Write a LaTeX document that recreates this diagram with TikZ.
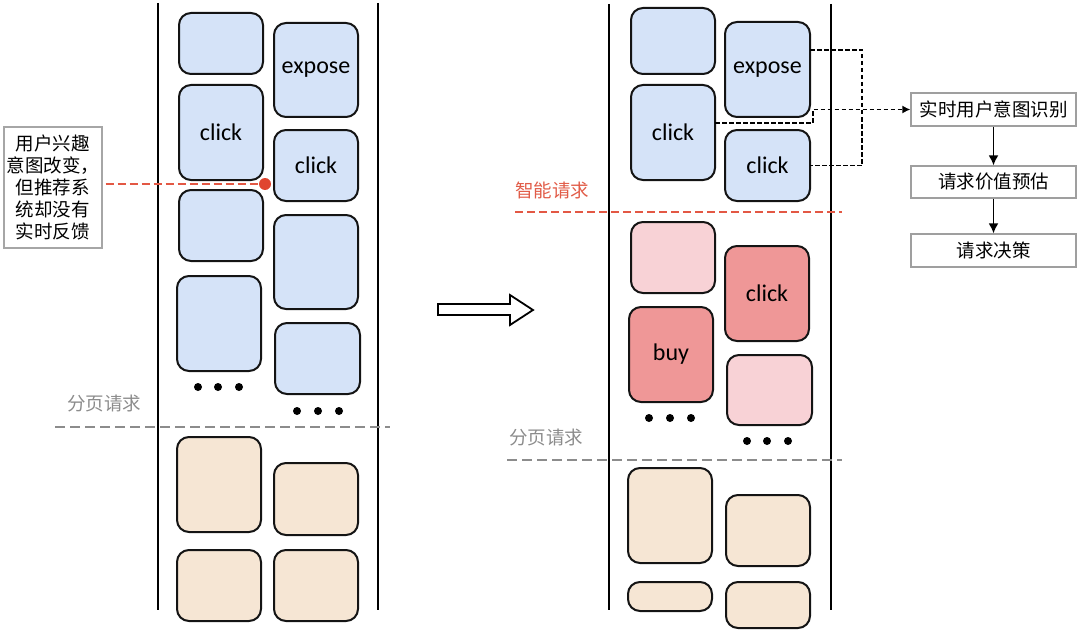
\documentclass[tikz,border=0pt]{standalone}
\usepackage{fontspec}
\setmainfont{Carlito}
\newfontfamily\cjk{Noto Sans CJK SC}
\usetikzlibrary{arrows.meta,calc}
\definecolor{cblue}{HTML}{D5E3F8}
\definecolor{cpeach}{HTML}{F6E6D4}
\definecolor{cpinkl}{HTML}{F8D2D6}
\definecolor{cpinkd}{HTML}{EF9797}
\definecolor{cred}{HTML}{E0452F}
\definecolor{credt}{HTML}{E15C48}
\definecolor{cgray}{HTML}{8C8C8C}
\definecolor{cedge}{HTML}{141414}
\newcommand\cardbox[7]{\node[card,fill=#6,minimum width={(#4)-(#2)},minimum height={(#5)-(#3)}] (#1) at ({((#2)+(#4))/2},{((#3)+(#5))/2}) {#7};}
\begin{document}
\begin{tikzpicture}[x=1pt,y=-1pt,
  card/.style={draw=cedge,line width=2pt,rounded corners=12pt,inner sep=0pt,outer sep=0pt,font=\fontsize{24}{27}\selectfont},
  rail/.style={draw=black,line width=2pt},
  flowbox/.style={draw=gray!75,line width=1.2pt,fill=white,minimum width=165pt,minimum height=33pt,inner sep=0pt,font=\cjk\fontsize{18.5}{22}\selectfont},
  dconn/.style={draw=black,line width=1.5pt,dash pattern=on 4.5pt off 2.5pt},
  flowarrow/.style={draw=black,line width=1.8pt,-{Latex[length=10pt,width=10pt]}},
  pagesep/.style={draw=cgray,line width=2.8pt,dash pattern=on 10pt off 5pt},
  redsep/.style={draw=cred!90,line width=2.6pt,dash pattern=on 8pt off 4pt},
  graylabel/.style={text=cgray,font=\cjk\fontsize{18.5}{22}\selectfont},
  redlabel/.style={text=credt,font=\cjk\fontsize{18.5}{22}\selectfont},
  dot/.style={circle,fill=black,inner sep=0pt,minimum size=8pt}
]
\useasboundingbox (0,0) rectangle (1080,634);
% ---------- left panel ----------
\draw[rail] (158,3) -- (158,610);
\draw[rail] (378,3) -- (378,610);
\cardbox{L1}{179}{13}{263}{74}{cblue}{}
\cardbox{Lex}{274}{23}{358}{117}{cblue}{expose}
\cardbox{Lck}{179}{85}{263}{180}{cblue}{click}
\cardbox{Lck2}{274}{130}{358}{201}{cblue}{click}
\cardbox{L4}{179}{190}{263}{261}{cblue}{}
\cardbox{L5}{274}{215}{358}{309}{cblue}{}
\cardbox{L6}{177}{276}{261}{371}{cblue}{}
\cardbox{L7}{275}{323}{360}{394}{cblue}{}
\cardbox{Lp1}{177}{437}{261}{532}{cpeach}{}
\cardbox{Lp2}{274}{463}{358}{535}{cpeach}{}
\cardbox{Lp3}{177}{550}{261}{621}{cpeach}{}
\cardbox{Lp4}{274}{550}{358}{621}{cpeach}{}
\node[dot] (ld1) at (198,387) {};
\node[dot] (ld2) at (218,387) {};
\node[dot] (ld3) at (239,387) {};
\node[dot] (ld4) at (297,411) {};
\node[dot] (ld5) at (318,411) {};
\node[dot] (ld6) at (339,411) {};
\node[graylabel] (lpage) at (104,403) {分页请求};
\draw[pagesep] (55,427) -- (390,427);
% note box
\node[draw=gray!70,line width=1.2pt,fill=white,minimum width=98pt,minimum height=121pt,inner sep=0pt,align=center,font=\cjk\fontsize{18.5}{22}\selectfont] (note) at (53,187.5) {用户兴趣\\意图改变，\\但推荐系\\统却没有\\实时反馈};
\node[circle,fill=cred,inner sep=0pt,minimum size=12pt] (rdot) at (265,184) {};
\draw[redsep] ([xshift=3pt]note.east |- rdot) -- (rdot);
% ---------- transition arrow ----------
\draw[line width=1.8pt,fill=white] (438,304) -- (510,304) -- (510,295) -- (533,310) -- (510,325) -- (510,315) -- (438,315) -- cycle;
% ---------- right panel ----------
\draw[rail] (609,4) -- (609,610);
\draw[rail] (831,4) -- (831,610);
\cardbox{R1}{631}{8}{715}{74}{cblue}{}
\cardbox{Rex}{725}{22}{810}{117}{cblue}{expose}
\cardbox{Rck}{631}{85}{715}{180}{cblue}{click}
\cardbox{Rck2}{725}{130}{810}{201}{cblue}{click}
\cardbox{Rk1}{631}{222}{715}{293}{cpinkl}{}
\cardbox{Rk2}{725}{246}{809}{341}{cpinkd}{click}
\cardbox{Rbuy}{629}{307}{713}{402}{cpinkd}{buy}
\cardbox{Rk3}{727}{355}{812}{425}{cpinkl}{}
\cardbox{Rp1}{628}{468}{712}{563}{cpeach}{}
\cardbox{Rp2}{726}{495}{810}{566}{cpeach}{}
\cardbox{Rp3}{628}{582}{712}{611}{cpeach}{}
\cardbox{Rp4}{726}{582}{810}{628}{cpeach}{}
\node[dot] (rd1) at (649,418) {};
\node[dot] (rd2) at (670,418) {};
\node[dot] (rd3) at (691,418) {};
\node[dot] (rd4) at (747,441) {};
\node[dot] (rd5) at (767,441) {};
\node[dot] (rd6) at (788,441) {};
\node[redlabel] (smart) at (552,190) {智能请求};
\draw[redsep] (515,212) -- (842,212);
\node[graylabel] (rpage) at (546,437) {分页请求};
\draw[pagesep] (507,460) -- (842,460);
% ---------- flow ----------
\node[flowbox] (intent) at (993.5,109.5) {实时用户意图识别};
\node[flowbox,minimum height=32pt] (value) at (993.5,182) {请求价值预估};
\node[flowbox] (decide) at (993.5,250.5) {请求决策};
\draw[flowarrow] (intent) -- (value);
\draw[flowarrow] (value) -- (decide);
\coordinate (bk) at (862,0);
\coordinate (jog) at (813,0);
\draw[dconn] ([yshift=19.5pt]Rex.east) -| (bk |- Rck2.east) -- (Rck2.east);
\draw[dconn,-{Latex[length=8pt,width=8pt]}] ([yshift=9.5pt]Rck.east) -| (jog |- intent.west) -- (intent.west);
\end{tikzpicture}
\end{document}
